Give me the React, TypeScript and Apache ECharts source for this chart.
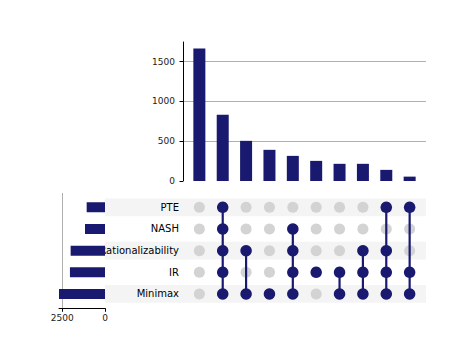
import React, { useEffect, useRef } from "react";
import * as echarts from "echarts";

// ---- data ----
const setNames = ["PTE", "NASH", "Rationalizability", "IR", "Minimax"];
const setSizes = [1072, 1170, 2010, 2050, 2690];
const intersectionSizes = [1665, 832, 505, 392, 316, 253, 216, 216, 140, 55];
// row indices (into setNames) that belong to each intersection column
const memberships: number[][] = [
  [],
  [0, 1, 2, 3, 4],
  [2, 4],
  [4],
  [1, 2, 3, 4],
  [3],
  [3, 4],
  [2, 3, 4],
  [0, 2, 3, 4],
  [0, 3, 4],
];
const topTickInterval = 500;
const leftTickInterval = 2500;

// ---- style ----
const NAVY = "#191970";
const GREY_DOT = "#d3d3d3";
const BAND = "#f4f4f4";
const GRID = "#b0b0b0";
const FONT = "DejaVu Sans";
const TXT = "#222";

export default function App() {
  const ref = useRef<HTMLDivElement>(null);

  useEffect(() => {
    document.body.style.margin = "0";
    if (!ref.current) return;
    const chart = echarts.init(ref.current, undefined, { renderer: "svg" });

    const nCols = intersectionSizes.length;
    const xMin = -0.7;
    const xMax = nCols - 1 + 0.7;
    const topMax = Math.max(...intersectionSizes) * 1.05;
    const leftMax = Math.max(...setSizes);

    const greyDots: number[][] = [];
    const navyDots: number[][] = [];
    const connectors: number[][] = [];
    memberships.forEach((m, c) => {
      setNames.forEach((_, r) => {
        if (m.includes(r)) navyDots.push([c, r]);
        else greyDots.push([c, r]);
      });
      if (m.length >= 2) connectors.push([c, Math.min(...m), Math.max(...m)]);
    });
    const bandRows = setNames.map((_, i) => i).filter((i) => i % 2 === 0);

    const BAND_LEFT = 105;
    const plain = (v: number) => String(v);

    const option: any = {
      animation: false,
      backgroundColor: "#fff",
      grid: [
        { left: 183, right: 47, top: 42, bottom: 171 },
        { left: 183, right: 47, top: 196.5, bottom: 47.2 },
        { left: 59, right: 368, top: 193, bottom: 43.7 },
      ],
      xAxis: [
        { gridIndex: 0, type: "value", min: xMin, max: xMax, show: false },
        { gridIndex: 1, type: "value", min: xMin, max: xMax, show: false },
        {
          gridIndex: 2,
          type: "value",
          inverse: true,
          min: 0,
          max: leftMax,
          interval: leftTickInterval,
          z: 3,
          axisLine: { show: true, onZero: false, lineStyle: { color: "#000", width: 1 } },
          axisTick: { show: true, length: 3.5, lineStyle: { color: "#000" } },
          axisLabel: { fontSize: 9, fontFamily: FONT, color: TXT, margin: 5, formatter: plain },
          splitLine: { show: true, showMinLine: false, showMaxLine: false, lineStyle: { color: GRID, width: 1 } },
        },
      ],
      yAxis: [
        {
          gridIndex: 0,
          type: "value",
          min: 0,
          max: topMax,
          interval: topTickInterval,
          axisLine: { show: true, onZero: false, lineStyle: { color: "#000", width: 1 } },
          axisTick: { show: true, length: 3.5, lineStyle: { color: "#000" } },
          axisLabel: { fontSize: 9, fontFamily: FONT, color: TXT, margin: 8, showMaxLabel: false, formatter: plain },
          splitLine: { show: true, showMinLine: false, showMaxLine: false, lineStyle: { color: GRID, width: 1 } },
        },
        {
          gridIndex: 1,
          type: "category",
          data: setNames,
          inverse: true,
          z: 1,
          axisLine: { show: false },
          axisTick: { show: false },
          axisLabel: { fontSize: 10, fontFamily: FONT, color: "#000", margin: 4 },
          splitLine: { show: false },
        },
        {
          gridIndex: 2,
          type: "value",
          min: -0.66,
          max: setNames.length - 1 + 0.66,
          inverse: true,
          show: false,
        },
      ],
      graphic: [
        {
          type: "rect",
          z: 2,
          shape: { x: 0, y: 188, width: BAND_LEFT, height: 122 },
          style: { fill: "#fff" },
          silent: true,
        },
      ],
      series: [
        {
          type: "bar",
          xAxisIndex: 0,
          yAxisIndex: 0,
          barWidth: 12,
          itemStyle: { color: NAVY },
          data: intersectionSizes.map((v, i) => [i, v]),
          z: 2,
        },
        {
          type: "custom",
          xAxisIndex: 1,
          yAxisIndex: 1,
          z: 0,
          clip: false,
          silent: true,
          data: bandRows.map((r) => [0, r]),
          renderItem: (params: any, api: any) => {
            const row = api.value(1);
            const p = api.coord([0, row]);
            const pr = api.coord([xMax, row]);
            const h = api.size([0, 1])[1] * 0.82;
            return {
              type: "rect",
              shape: { x: BAND_LEFT, y: p[1] - h / 2, width: pr[0] - BAND_LEFT, height: h },
              style: { fill: BAND },
            };
          },
        },
        {
          type: "scatter",
          xAxisIndex: 1,
          yAxisIndex: 1,
          symbolSize: 11,
          itemStyle: { color: GREY_DOT, opacity: 1 },
          data: greyDots,
          z: 5,
        },
        {
          type: "custom",
          xAxisIndex: 1,
          yAxisIndex: 1,
          z: 6,
          data: connectors,
          renderItem: (params: any, api: any) => {
            const c = api.value(0);
            const a = api.coord([c, api.value(1)]);
            const b = api.coord([c, api.value(2)]);
            return {
              type: "line",
              shape: { x1: a[0], y1: a[1], x2: b[0], y2: b[1] },
              style: { stroke: NAVY, lineWidth: 2.2 },
            };
          },
        },
        {
          type: "scatter",
          xAxisIndex: 1,
          yAxisIndex: 1,
          symbolSize: 11.5,
          itemStyle: { color: NAVY, opacity: 1 },
          data: navyDots,
          z: 7,
        },
        {
          type: "custom",
          xAxisIndex: 2,
          yAxisIndex: 2,
          z: 4,
          data: setSizes.map((v, r) => [v, r]),
          renderItem: (params: any, api: any) => {
            const v = api.value(0);
            const r = api.value(1);
            const p0 = api.coord([0, r]);
            const p1 = api.coord([v, r]);
            const h = 10;
            return {
              type: "rect",
              shape: {
                x: Math.min(p0[0], p1[0]),
                y: p0[1] - h / 2,
                width: Math.abs(p1[0] - p0[0]),
                height: h,
              },
              style: { fill: NAVY },
            };
          },
        },
      ],
    };

    chart.setOption(option);
    return () => chart.dispose();
  }, []);

  return <div ref={ref} style={{ width: 473, height: 352 }} />;
}
